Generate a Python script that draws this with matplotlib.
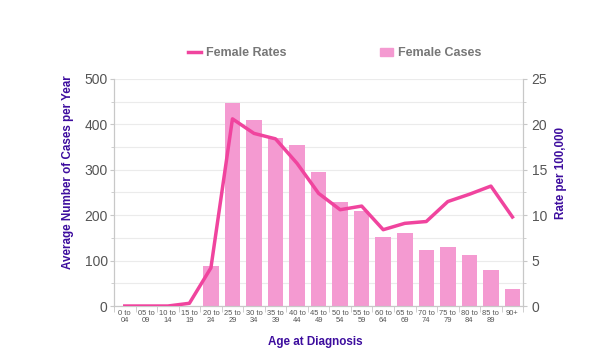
import numpy as np
import matplotlib.pyplot as plt
from matplotlib.lines import Line2D
from matplotlib.patches import Patch

plt.rcParams["font.family"] = ["Liberation Sans", "DejaVu Sans"]

ages = ["0 to\n04", "05 to\n09", "10 to\n14", "15 to\n19", "20 to\n24", "25 to\n29",
        "30 to\n34", "35 to\n39", "40 to\n44", "45 to\n49", "50 to\n54", "55 to\n59",
        "60 to\n64", "65 to\n69", "70 to\n74", "75 to\n79", "80 to\n84", "85 to\n89", "90+"]
cases = [0, 0, 0, 0, 88, 448, 410, 370, 355, 296, 230, 209, 151, 160, 124, 131, 112, 79, 37]
rates = [0, 0, 0, 0.3, 4.2, 20.6, 19.0, 18.4, 15.7, 12.4, 10.6, 11.0, 8.4, 9.1, 9.3, 11.5, 12.3, 13.2, 9.8]

bar_col = "#f49ad1"
line_col = "#f0449e"
lab_col = "#3d0d9e"
tick_col = "#555555"
spine_col = "#c8c8c8"

fig = plt.figure(figsize=(6, 3.56), dpi=100)
ax = fig.add_axes([0.19, 0.1404, 0.682, 0.638])
x = np.arange(len(ages))

ax.bar(x, cases, width=0.72, color=bar_col, zorder=2)
ax.set_xlim(-0.5, len(ages) - 0.5)
ax.set_ylim(0, 500)
ax.set_yticks(np.arange(0, 501, 100))
ax.set_yticks(np.arange(0, 501, 50), minor=True)
ax.grid(axis="y", which="both", color="#ebebeb", linewidth=0.8, zorder=0)
ax.set_xticks(x)
ax.set_xticklabels(ages, fontsize=5.4, color=tick_col, linespacing=1.0)
ax.set_xticks(np.arange(-0.5, len(ages)), minor=True)
ax.tick_params(axis="x", which="major", length=0, pad=3)
ax.tick_params(axis="x", which="minor", length=4, color=spine_col)
ax.tick_params(axis="y", which="both", color=spine_col, labelsize=10, labelcolor=tick_col, pad=1.5)
ax.tick_params(axis="y", which="major", length=3)
ax.tick_params(axis="y", which="minor", length=2.5)
ax.spines["top"].set_visible(False)
for s in ["left", "right", "bottom"]:
    ax.spines[s].set_color(spine_col)
ax.set_axisbelow(True)

ax2 = ax.twinx()
ax2.plot(x, rates, color=line_col, linewidth=2.5, zorder=3)
ax2.set_ylim(0, 25)
ax2.set_yticks(np.arange(0, 26, 5))
ax2.set_yticks(np.arange(0, 26, 2.5), minor=True)
ax2.tick_params(axis="y", which="both", color=spine_col, labelsize=10, labelcolor=tick_col, pad=3)
ax2.tick_params(axis="y", which="major", length=3)
ax2.tick_params(axis="y", which="minor", length=2.5)
ax2.spines["top"].set_visible(False)
for s in ["left", "right", "bottom"]:
    ax2.spines[s].set_color(spine_col)

# axis titles placed like the original (a bit above the axes centre)
lab = dict(fontsize=8.4, fontweight="bold", color=lab_col, ha="center", va="center")
fig.text(0.1125, 0.517, "Average Number of Cases per Year", rotation=90, **lab)
fig.text(0.935, 0.515, "Rate per 100,000", rotation=90, **lab)
fig.text(0.525, 0.039, "Age at Diagnosis", **lab)

handles = [Line2D([0], [0], color=line_col, linewidth=2.5),
           Patch(color=bar_col)]
leg = fig.legend(handles, ["Female Rates", "Female Cases"], loc="center",
                 bbox_to_anchor=(0.558, 0.85), ncol=2, frameon=False, fontsize=9,
                 handlelength=1.0, handletextpad=0.4, columnspacing=7.5)
for t in leg.get_texts():
    t.set_color("#777777")
    t.set_fontweight("bold")

fig.savefig("out.png", dpi=100)
